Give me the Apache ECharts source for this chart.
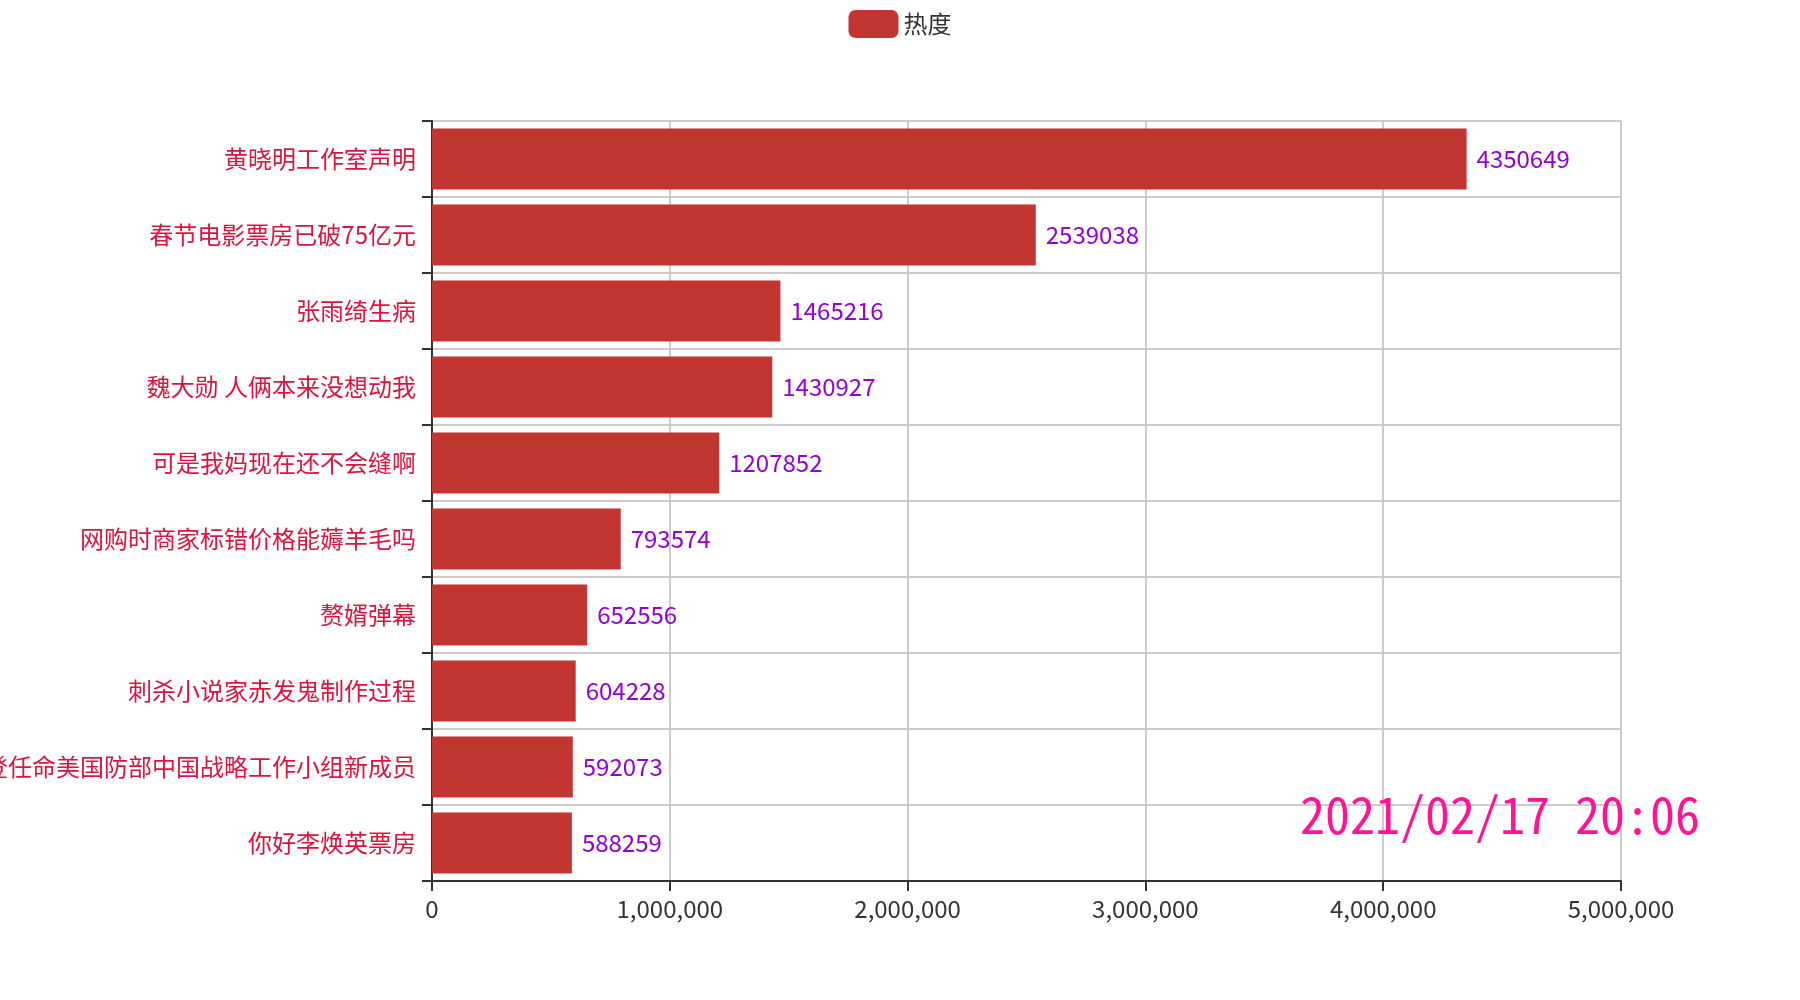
<!DOCTYPE html>
<html>
<head>
<meta charset="utf-8">
<title>热度</title>
<script src="https://cdn.jsdelivr.net/npm/echarts@6/dist/echarts.min.js"></script>
<style>
    html, body { margin: 0; padding: 0; background: #fff; }
    #main { width: 1800px; height: 1000px; }
</style>
</head>
<body>
<div id="main"></div>
<script>
    var topics = [
        '黄晓明工作室声明',
        '春节电影票房已破75亿元',
        '张雨绮生病',
        '魏大勋 人俩本来没想动我',
        '可是我妈现在还不会缝啊',
        '网购时商家标错价格能薅羊毛吗',
        '赘婿弹幕',
        '刺杀小说家赤发鬼制作过程',
        '拜登任命美国防部中国战略工作小组新成员',
        '你好李焕英票房'
    ];
    var heat = [4350649, 2539038, 1465216, 1430927, 1207852, 793574, 652556, 604228, 592073, 588259];
    var stamp = '2021/02/17 20:06';

    var font = "'Microsoft YaHei', 'Noto Sans CJK SC', sans-serif";
    var monoFont = "'Noto Sans Mono CJK SC', 'Noto Sans CJK SC', monospace";
    var chart = echarts.init(document.getElementById('main'));

    var option = {
        animation: false,
        textStyle: { fontFamily: font },
        color: ['#c23531'],
        legend: {
            top: 0,
            padding: 10,
            itemWidth: 50,
            itemHeight: 28,
            itemGap: 20,
            icon: 'roundRect',
            textStyle: { fontSize: 24, color: '#333', fontFamily: font },
            data: ['热度']
        },
        grid: {
            left: 432,
            right: 179,
            top: 121,
            bottom: 119,
            containLabel: false,
            outerBoundsMode: 'none'
        },
        xAxis: {
            type: 'value',
            min: 0,
            max: 5000000,
            interval: 1000000,
            axisLine: { show: true, lineStyle: { color: '#333', width: 2 } },
            axisTick: { show: true, length: 10, lineStyle: { width: 2 } },
            axisLabel: { fontSize: 24, margin: 16, color: '#333', fontFamily: font },
            splitLine: { show: true, lineStyle: { color: '#ccc', width: 2 } }
        },
        yAxis: {
            type: 'category',
            inverse: true,
            data: topics,
            axisLine: { show: true, lineStyle: { color: '#333', width: 2 } },
            axisTick: { show: true, length: 10, lineStyle: { width: 2 } },
            axisLabel: { fontSize: 24, margin: 16, color: '#DC143C', fontFamily: font },
            splitLine: { show: true, lineStyle: { color: '#ccc', width: 2 } }
        },
        graphic: [{
            type: 'text',
            right: 100,
            top: 790,
            z: 100,
            style: {
                text: stamp,
                fill: '#FF1493',
                fontSize: 50,
                fontFamily: monoFont
            }
        }],
        series: [{
            name: '热度',
            type: 'bar',
            data: heat,
            barCategoryGap: '20%',
            label: {
                show: true,
                position: 'right',
                distance: 10,
                fontSize: 24,
                color: '#9400D3',
                fontFamily: font
            }
        }]
    };

    chart.setOption(option);
</script>
</body>
</html>
